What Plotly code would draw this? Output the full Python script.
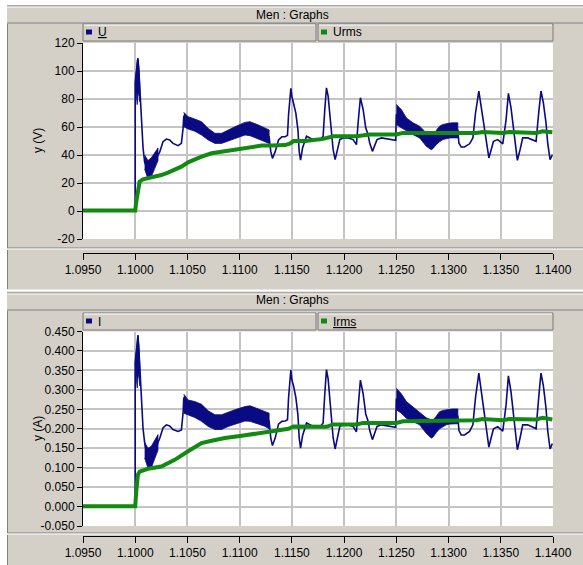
import plotly.graph_objects as go

W, H = 583, 565

# ---------------- data ----------------
T = [1.095, 1.1, 1.1, 1.10013, 1.10019, 1.10026, 1.10035, 1.10045, 1.10058, 1.10075,
     1.1009, 1.10122, 1.10154, 1.10186, 1.10218, 1.10234, 1.10266, 1.10298, 1.1033, 1.10362,
     1.1041, 1.10442, 1.10458, 1.10465, 1.10506, 1.1057, 1.10635, 1.10699, 1.10763, 1.10827,
     1.10891, 1.10955, 1.11051, 1.11099, 1.11179, 1.11244, 1.11282, 1.11298, 1.11314, 1.1134,
     1.11372, 1.11404, 1.11436, 1.11458, 1.11468, 1.1149, 1.115, 1.11516, 1.11538, 1.11558,
     1.1157, 1.11583, 1.11602, 1.1164, 1.11672, 1.11704, 1.11768, 1.11799, 1.11815, 1.11831,
     1.11847, 1.11863, 1.11879, 1.11895, 1.11914, 1.11933, 1.11959, 1.1199, 1.12038, 1.12086,
     1.12118, 1.12134, 1.12156, 1.12182, 1.12207, 1.12229, 1.12245, 1.12271, 1.12293, 1.12315,
     1.12357, 1.12436, 1.12494, 1.125, 1.12548, 1.12596, 1.12659, 1.12723, 1.12787, 1.12834,
     1.12882, 1.12946, 1.1301, 1.13042, 1.13089, 1.13099, 1.13121, 1.13153, 1.13201, 1.13233,
     1.13258, 1.1329, 1.13312, 1.13335, 1.1336, 1.13386, 1.13408, 1.1343, 1.13471, 1.13519,
     1.13551, 1.13573, 1.13598, 1.13621, 1.1364, 1.13659, 1.13685, 1.1371, 1.13758, 1.13806,
     1.13838, 1.13863, 1.13885, 1.13908, 1.13933, 1.13949, 1.13972, 1.13994]

U = [0.3, 0.3, 92, 100, 107, 109, 100, 85, 61, 45,
     35, 29, 30, 34, 40, 42, 49.5, 51.4, 50.8, 48.3,
     46.7, 48.3, 59, 68, 63, 61.3, 59, 54.8, 51.9, 51.9,
     54, 56, 58.8, 58.8, 56.4, 54.5, 53, 42.4, 37.6, 42.4,
     50.7, 53, 53, 54, 68.6, 87.6, 81.7, 77, 69.8, 57.9,
     42.4, 36.4, 45, 53.4, 52.2, 51, 50.5, 53.4, 72.5, 88,
     82, 70, 55.8, 43.8, 36.7, 43.8, 51, 52.2, 52.2, 51,
     47.4, 63, 80.9, 72.5, 59.4, 54.6, 48.6, 42.6, 47.4, 51,
     52.2, 51, 50.5, 69, 66, 61.8, 58.8, 56.4, 51, 47.5,
     51, 56, 57.5, 57.6, 57.6, 48.6, 45.7, 45.7, 48, 52.2,
     70, 85.7, 75, 60.6, 48.6, 37.9, 43.8, 49.8, 51, 48,
     65.3, 84, 73.7, 58.2, 46.2, 36.2, 43.8, 52.2, 52.2, 50.5,
     49.8, 70, 85.7, 77.3, 63, 48.6, 36.7, 40.2]

I = [0.001, 0.001, 0.37, 0.40, 0.43, 0.44, 0.405, 0.345, 0.27, 0.2,
     0.165, 0.12, 0.122, 0.14, 0.165, 0.175, 0.202, 0.21, 0.207, 0.198,
     0.193, 0.197, 0.24, 0.28, 0.255, 0.25, 0.241, 0.226, 0.217, 0.217,
     0.224, 0.23, 0.238, 0.239, 0.232, 0.224, 0.22, 0.176, 0.157, 0.176,
     0.212, 0.219, 0.22, 0.223, 0.279, 0.351, 0.326, 0.31, 0.28, 0.235,
     0.176, 0.15, 0.182, 0.215, 0.21, 0.206, 0.204, 0.215, 0.29, 0.352,
     0.328, 0.28, 0.224, 0.177, 0.148, 0.177, 0.206, 0.21, 0.21, 0.206,
     0.192, 0.253, 0.325, 0.29, 0.238, 0.22, 0.196, 0.172, 0.192, 0.206,
     0.21, 0.206, 0.204, 0.277, 0.265, 0.248, 0.236, 0.226, 0.205, 0.19,
     0.205, 0.225, 0.231, 0.232, 0.232, 0.196, 0.184, 0.184, 0.193, 0.21,
     0.28, 0.343, 0.3, 0.244, 0.196, 0.153, 0.177, 0.2, 0.205, 0.194,
     0.262, 0.336, 0.295, 0.234, 0.186, 0.146, 0.177, 0.21, 0.21, 0.203,
     0.2, 0.28, 0.343, 0.31, 0.253, 0.196, 0.148, 0.162]

T_URMS = [1.095, 1.1, 1.1001, 1.10026, 1.10042, 1.10074, 1.10122, 1.10186, 1.1025, 1.10314,
          1.10378, 1.10442, 1.10506, 1.1057, 1.10635, 1.10731, 1.10827, 1.10923, 1.11019, 1.11115,
          1.11211, 1.11308, 1.11436, 1.11484, 1.11516, 1.11628, 1.11799, 1.11895, 1.12118, 1.12245,
          1.125, 1.12564, 1.12819, 1.13137, 1.13265, 1.13328, 1.13519, 1.13583, 1.13838, 1.13901,
          1.13994]
URMS = [0.3, 0.3, 6.7, 16, 21, 22.6, 23.3, 24.5, 25.7, 27.4,
        29.3, 31.7, 34.8, 37.1, 38.8, 41.2, 42.4, 43.6, 44.8, 46,
        46.7, 46.7, 47.1, 48.3, 50, 50, 51.5, 53.4, 53.4, 54.6,
        54.6, 55.8, 55.8, 55.3, 55.8, 56.5, 55.8, 56.5, 55.8, 57,
        56.3]

T_IRMS = [1.095, 1.1, 1.1001, 1.10026, 1.10042, 1.10122, 1.1025, 1.10378, 1.10506, 1.10635,
          1.10731, 1.10859, 1.11019, 1.11179, 1.11308, 1.11468, 1.11516, 1.11628, 1.11831, 1.11895,
          1.12118, 1.12182, 1.125, 1.12564, 1.13265, 1.13328, 1.13519, 1.13583, 1.13838, 1.13901,
          1.13994]
IRMS = [0.001, 0.001, 0.039, 0.082, 0.09, 0.097, 0.103, 0.12, 0.142, 0.163,
        0.169, 0.176, 0.182, 0.189, 0.195, 0.2, 0.206, 0.206, 0.205, 0.211,
        0.211, 0.215, 0.215, 0.219, 0.222, 0.225, 0.222, 0.225, 0.224, 0.228,
        0.224]

# high-frequency oscillation bands (upper / lower envelopes)
TB_SPIKE = [1.10003, 1.10013, 1.10019, 1.10026, 1.10035, 1.10045]
U_SPIKE_HI = [95, 104, 108, 109, 103, 88]
U_SPIKE_LO = [88, 80, 76, 82, 85, 78]
I_SPIKE_HI = [0.38, 0.415, 0.435, 0.441, 0.415, 0.355]
I_SPIKE_LO = [0.355, 0.32, 0.305, 0.33, 0.34, 0.31]

TB_DIP = [1.1009, 1.10122, 1.10154, 1.10186, 1.10218]
U_DIP_HI = [40, 36, 38, 42, 45]
U_DIP_LO = [30, 23, 24.5, 30, 36]
I_DIP_HI = [0.165, 0.15, 0.155, 0.17, 0.185]
I_DIP_LO = [0.125, 0.099, 0.1, 0.12, 0.145]

TB1 = [1.10465, 1.10506, 1.1057, 1.10635, 1.10699, 1.10763, 1.10827, 1.10891, 1.10955, 1.11051,
       1.11099, 1.11179, 1.11244, 1.11282]
U_B1_HI = [70.5, 67.4, 65.7, 63.8, 59, 55.5, 55.5, 57.9, 60.2, 63.3, 63.8, 61.4, 59.5, 57.9]
U_B1_LO = [60.2, 58.6, 57, 54.3, 50.7, 48.3, 48.3, 50, 51.9, 54.3, 53.8, 51.4, 49.5, 48.3]
I_B1_HI = [0.289, 0.274, 0.27, 0.263, 0.246, 0.236, 0.236, 0.243, 0.249, 0.257, 0.259, 0.251, 0.244, 0.24]
I_B1_LO = [0.24, 0.236, 0.229, 0.219, 0.206, 0.198, 0.198, 0.206, 0.212, 0.22, 0.219, 0.212, 0.206, 0.2]

TB2 = [1.125, 1.12548, 1.12596, 1.12659, 1.12723, 1.12787, 1.12834, 1.1285, 1.12882, 1.12914,
       1.12946, 1.12978, 1.1301, 1.13042, 1.13089]
U_B2_HI = [76, 72.5, 66.5, 63, 60.6, 55.8, 54.8, 54.6, 57.5, 60.6, 61.8, 62.5, 62.8, 63, 63]
U_B2_LO = [61.8, 59.4, 57, 54.6, 52.2, 46.2, 43.8, 44.5, 47.4, 49.5, 51, 51.6, 52.2, 52.2, 52.2]
I_B2_HI = [0.304, 0.29, 0.27, 0.256, 0.244, 0.228, 0.223, 0.222, 0.232, 0.244, 0.247, 0.249, 0.25, 0.251, 0.251]
I_B2_LO = [0.249, 0.24, 0.227, 0.218, 0.21, 0.188, 0.176, 0.178, 0.19, 0.2, 0.206, 0.21, 0.212, 0.213, 0.213]

X_TICKS = [1.095, 1.100, 1.105, 1.110, 1.115, 1.120, 1.125, 1.130, 1.135, 1.140]
U_TICKS = [-20, 0, 20, 40, 60, 80, 100, 120]
I_TICKS = [-0.05, 0.0, 0.05, 0.10, 0.15, 0.20, 0.25, 0.30, 0.35, 0.40, 0.45]

TITLE = "Men : Graphs"
U_NAMES = ["<u>U</u>", "Urms"]
I_NAMES = ["I", "<u>Irms</u>"]
Y_TITLES = ["y (V)", "y (A)"]

# ---------------- style ----------------
FONT = "Liberation Sans, Arial, sans-serif"
NAVY = "#0a0a82"
GREEN = "#128a12"
GRAY = "#d4d0c8"
GRID = "#c4c4c4"

PLOT_L, PLOT_R = 83, 553
P1_TOP, P1_BOT = 43, 239
P2_TOP, P2_BOT = 331.5, 526


def fx(px):
    return px / W


def fy(py):
    return 1 - py / H


fig = go.Figure()


def band(t, hi, lo, xa, ya):
    fig.add_trace(go.Scatter(x=t + t[::-1], y=hi + lo[::-1], fill="toself",
                             fillcolor=NAVY, mode="lines",
                             line=dict(color=NAVY, width=0.8),
                             xaxis=xa, yaxis=ya, hoverinfo="skip", showlegend=False))


for (hi, lo, t) in [(U_SPIKE_HI, U_SPIKE_LO, TB_SPIKE), (U_DIP_HI, U_DIP_LO, TB_DIP),
                    (U_B1_HI, U_B1_LO, TB1), (U_B2_HI, U_B2_LO, TB2)]:
    band(t, hi, lo, "x", "y")
fig.add_trace(go.Scatter(x=T, y=U, mode="lines", line=dict(color=NAVY, width=1.6),
                         xaxis="x", yaxis="y", showlegend=False, name="U"))
fig.add_trace(go.Scatter(x=T_URMS, y=URMS, mode="lines", line=dict(color=GREEN, width=4),
                         xaxis="x", yaxis="y", showlegend=False, name="Urms"))

for (hi, lo, t) in [(I_SPIKE_HI, I_SPIKE_LO, TB_SPIKE), (I_DIP_HI, I_DIP_LO, TB_DIP),
                    (I_B1_HI, I_B1_LO, TB1), (I_B2_HI, I_B2_LO, TB2)]:
    band(t, hi, lo, "x2", "y2")
fig.add_trace(go.Scatter(x=T, y=I, mode="lines", line=dict(color=NAVY, width=1.6),
                         xaxis="x2", yaxis="y2", showlegend=False, name="I"))
fig.add_trace(go.Scatter(x=T_IRMS, y=IRMS, mode="lines", line=dict(color=GREEN, width=4),
                         xaxis="x2", yaxis="y2", showlegend=False, name="Irms"))

x_dom = [fx(PLOT_L), fx(PLOT_R)]
tickfont = dict(family=FONT, size=12, color="black")
xlabels = ["%.4f" % v for v in X_TICKS]


def xaxis_cfg(pos_py):
    return dict(domain=x_dom, range=[X_TICKS[0], X_TICKS[-1]], anchor="free",
                position=fy(pos_py), tickvals=X_TICKS, ticktext=xlabels, ticks="outside",
                ticklen=6, tickcolor="black", showline=True, linecolor="black", linewidth=1,
                showgrid=True, gridcolor=GRID, gridwidth=1.5, zeroline=False,
                tickfont=tickfont, fixedrange=True, automargin=False)


def yaxis_cfg(xa, dom, ticks, labels):
    return dict(domain=dom, range=[ticks[0], ticks[-1]], anchor=xa, tickvals=ticks,
                ticktext=labels, ticks="outside", ticklen=5, tickcolor="black",
                showline=True, linecolor="black", linewidth=1, showgrid=True,
                gridcolor=GRID, gridwidth=1.5, zeroline=False, tickfont=tickfont,
                fixedrange=True, automargin=False)


shapes = []


def rect(x0, y0, x1, y1, fill=None, line=None, lw=1):
    shapes.append(dict(type="rect", xref="paper", yref="paper", x0=fx(x0), x1=fx(x1),
                       y0=fy(y1), y1=fy(y0), fillcolor=fill if fill else "rgba(0,0,0,0)",
                       line=dict(color=line if line else "rgba(0,0,0,0)", width=lw),
                       layer="below"))


def hline(x0, x1, y, color, lw=1):
    shapes.append(dict(type="line", xref="paper", yref="paper", x0=fx(x0), x1=fx(x1),
                       y0=fy(y), y1=fy(y), line=dict(color=color, width=lw), layer="below"))


def vline(x, y0, y1, color, lw=1):
    shapes.append(dict(type="line", xref="paper", yref="paper", x0=fx(x), x1=fx(x),
                       y0=fy(y0), y1=fy(y1), line=dict(color=color, width=lw), layer="below"))


annotations = []


def text(px, py, s, anchor="center", size=12, angle=0):
    annotations.append(dict(x=fx(px), y=fy(py), xref="paper", yref="paper", text=s,
                            showarrow=False, xanchor=anchor, yanchor="middle",
                            textangle=angle, font=dict(family=FONT, size=size, color="black")))


# panel backgrounds
rect(7, 5, 584, 566, fill=GRAY)
for (top, y_title, y_leg0, y_leg1, y_main1, y_ax0, y_ax1, names, ytitle, ymid, ptop, pbot) in [
        (5, 15, 24, 41, 248, 250, 289, U_NAMES, Y_TITLES[0], 141, P1_TOP, P1_BOT),
        (292, 300, 313, 330, 533, 535, 566, I_NAMES, Y_TITLES[1], 429, P2_TOP, P2_BOT)]:
    # plot area (white)
    rect(PLOT_L, ptop, PLOT_R, pbot, fill="white")
    # title bar
    hline(7, 584, top + 1, "#808080")
    hline(7, 584, top + 2, "#ffffff")
    hline(7, 584, top + 18, "#808080")
    text(292, y_title, TITLE, size=12)
    # main panel frame
    vline(7.5, top + 19, y_main1, "#808080")
    hline(7, 584, y_main1, "#808080")
    hline(7, 584, y_main1 + 1, "#ffffff")
    # axis panel frame
    vline(7.5, y_ax0, y_ax1, "#808080")
    # legend boxes
    for (lx0, lx1, col, nm) in [(83, 316, NAVY, names[0]), (318, 553, GREEN, names[1])]:
        rect(lx0, y_leg0, lx1, y_leg1, fill=GRAY, line="#7a7a7a")
        hline(lx0 + 1, lx1 - 1, y_leg0 + 1, "#ffffff")
        rect(lx0 + 3, (y_leg0 + y_leg1) / 2 - 3, lx0 + 9, (y_leg0 + y_leg1) / 2 + 2, fill=col)
        text(lx0 + 13, (y_leg0 + y_leg1) / 2, nm, anchor="left")
    text(38, ymid, ytitle, angle=-90)

hline(0, 584, 290.5, "#ffffff", 2)

fig.update_layout(
    width=W, height=H, margin=dict(l=0, r=0, t=0, b=0, autoexpand=False),
    paper_bgcolor="white", plot_bgcolor="white",
    xaxis=xaxis_cfg(253),
    yaxis=yaxis_cfg("x", [fy(P1_BOT), fy(P1_TOP)], U_TICKS, ["%d" % v for v in U_TICKS]),
    xaxis2=xaxis_cfg(536),
    yaxis2=yaxis_cfg("x2", [fy(P2_BOT), fy(P2_TOP)], I_TICKS, ["%.3f" % v for v in I_TICKS]),
    shapes=shapes, annotations=annotations, showlegend=False,
)

fig.write_html("out.html")
